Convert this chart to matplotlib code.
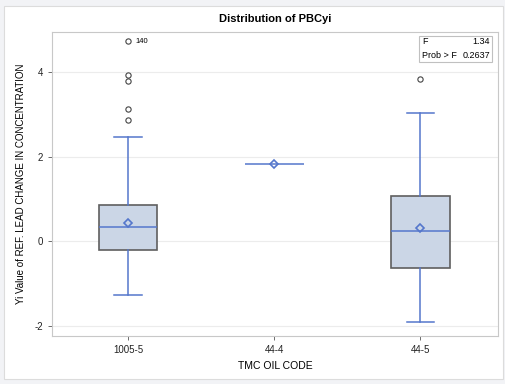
import matplotlib
matplotlib.use('Agg')
import matplotlib.pyplot as plt
from matplotlib.patches import Rectangle

categories = ["1005-5", "44-4", "44-5"]
# box statistics
q1 = [-0.21, 1.82, -0.62]
med = [0.33, 1.82, 0.24]
q3 = [0.85, 1.82, 1.07]
whislo = [-1.28, 1.82, -1.92]
whishi = [2.46, 1.82, 3.03]
means = [0.43, 1.82, 0.31]
fliers = [[4.73, 3.93, 3.79, 3.12, 2.86], [], [3.83]]
flier_label = "140"
f_value = "1.34"
prob_f = "0.2637"
yticks = [-2, 0, 2, 4]

blue = "#5577cc"
fill = "#cbd6e6"
edge = "#5f5f5f"

plt.rcParams['font.family'] = ['Liberation Sans', 'DejaVu Sans']

fig = plt.figure(figsize=(5.05, 3.84), dpi=100)
fig.patch.set_facecolor("#f2f3f6")
fig.patches.append(Rectangle((4/505, 1 - 379/384), 499/505, 373/384,
                             transform=fig.transFigure, facecolor="white",
                             edgecolor="#dcdcdc", linewidth=0.8, zorder=-10))
ax = fig.add_axes([52/505, 1 - 336/384, 446/505, 304/384])
ax.set_facecolor("white")

stats = []
for i, c in enumerate(categories):
    stats.append(dict(label=c, q1=q1[i], med=med[i], q3=q3[i],
                      whislo=whislo[i], whishi=whishi[i], mean=means[i],
                      fliers=fliers[i]))

# single observation group: draw just the line, no box
box_stats = [s for i, s in enumerate(stats) if q1[i] != q3[i]]
box_pos = [i for i in range(len(categories)) if q1[i] != q3[i]]
ax.bxp(box_stats, positions=box_pos, widths=0.40, patch_artist=True,
       showmeans=True, showfliers=True,
       boxprops=dict(facecolor=fill, edgecolor=edge, linewidth=1.2),
       medianprops=dict(color=blue, linewidth=1.1),
       whiskerprops=dict(color=blue, linewidth=1.1),
       capprops=dict(color=blue, linewidth=1.1),
       capwidths=0.19,
       meanprops=dict(marker='D', markerfacecolor='none', markeredgecolor=blue,
                      markersize=4.3, markeredgewidth=1.2),
       flierprops=dict(marker='o', markerfacecolor='none', markeredgecolor='#444444',
                       markersize=3.8, markeredgewidth=0.8))

for i in range(len(categories)):
    if q1[i] == q3[i]:
        ax.hlines(med[i], i - 0.2, i + 0.2, color=blue, linewidth=1.1)
        ax.plot(i, means[i], marker='D', markerfacecolor='none',
                markeredgecolor=blue, markersize=4.3, markeredgewidth=1.2)

ax.annotate(flier_label, (0, max(fliers[0])), xytext=(5, 0),
            textcoords='offset points', fontsize=5.5, va='center')

ax.set_xlim(-0.52, 2.53)
ax.set_ylim(-2.24, 4.95)
ax.set_yticks(yticks)
ax.set_yticklabels([str(t) for t in yticks], fontsize=7)
ax.set_xticks(range(len(categories)))
ax.set_xticklabels(categories, fontsize=7)
ax.yaxis.grid(True, color="#ececec", linewidth=0.8)
ax.set_axisbelow(True)
for s in ax.spines.values():
    s.set_color("#c8c8c8")
ax.tick_params(colors="#555555", length=3, width=0.6, labelcolor="#222222")

ax.set_title("Distribution of PBCyi", fontsize=8, fontweight='bold', pad=7)
ax.set_xlabel("TMC OIL CODE", fontsize=7.5, labelpad=4)
ax.set_ylabel("Yi Value of REF. LEAD CHANGE IN CONCENTRATION", fontsize=7, labelpad=6)

# F statistic inset
fig.patches.append(Rectangle((419/505, 1 - 62/384), 73/505, 26/384, transform=fig.transFigure,
                             facecolor="white", edgecolor="#c0c0c0", linewidth=0.8, zorder=5))
fig.text(422/505, 1 - 42/384, "F", fontsize=6.5, va='center', zorder=6)
fig.text(490/505, 1 - 42/384, f_value, fontsize=6.5, va='center', ha='right', zorder=6)
fig.text(422/505, 1 - 55/384, "Prob > F", fontsize=6.5, va='center', zorder=6)
fig.text(490/505, 1 - 55/384, prob_f, fontsize=6.5, va='center', ha='right', zorder=6)

fig.savefig("out.png", dpi=100, facecolor=fig.get_facecolor())
